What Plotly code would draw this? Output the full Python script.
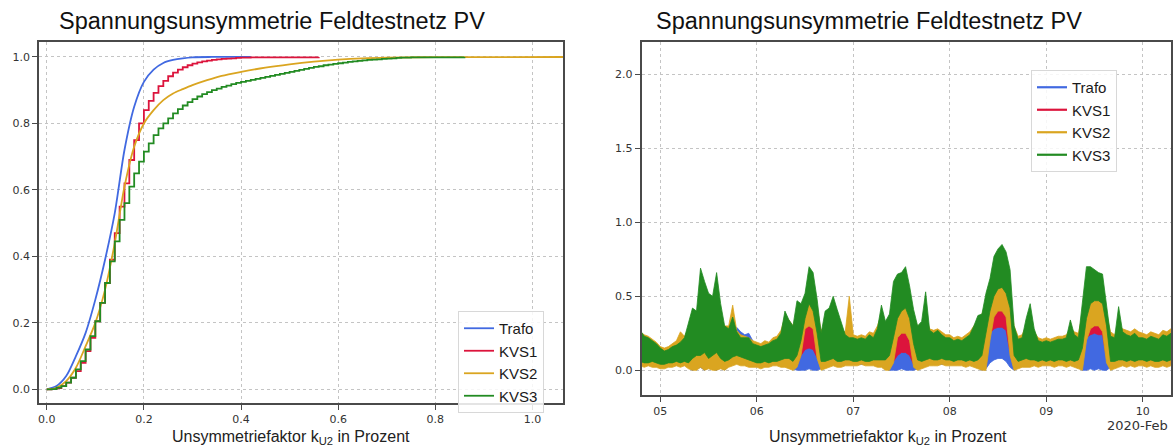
import numpy as np
import pandas as pd
import plotly.graph_objects as go

W, H = 1173, 447

# ---------------- Left: cumulative distributions ----------------
trafo_x = [0.0, 0.02, 0.04, 0.06, 0.08, 0.10, 0.12, 0.14, 0.16, 0.18, 0.20, 0.22, 0.24, 0.26, 0.28, 0.30, 0.34, 0.42]
trafo_y = [0.0, 0.01, 0.04, 0.10, 0.17, 0.27, 0.39, 0.53, 0.72, 0.85, 0.925, 0.962, 0.982, 0.991, 0.996, 0.999, 1.0, 1.0]

kvs1_x = [0.00, 0.01, 0.02, 0.03, 0.04, 0.05, 0.06, 0.07, 0.08, 0.09, 0.10, 0.11, 0.12, 0.13, 0.14,
          0.15, 0.16, 0.17, 0.18, 0.19, 0.20, 0.21, 0.22, 0.23, 0.24, 0.25, 0.26, 0.27, 0.28, 0.29,
          0.30, 0.31, 0.32, 0.33, 0.34, 0.35, 0.36, 0.37, 0.38, 0.39, 0.40, 0.41, 0.42, 0.56]
kvs1_y = [0.000, 0.001, 0.004, 0.010, 0.020, 0.035, 0.055, 0.080, 0.115, 0.155, 0.205, 0.260, 0.320, 0.390, 0.470,
          0.550, 0.620, 0.690, 0.750, 0.800, 0.840, 0.868, 0.892, 0.912, 0.928, 0.942, 0.953, 0.962, 0.969, 0.975,
          0.980, 0.984, 0.987, 0.989, 0.991, 0.993, 0.994, 0.995, 0.996, 0.997, 0.998, 0.998, 0.999, 1.000]

kvs2_x = [0.0, 0.02, 0.04, 0.06, 0.08, 0.10, 0.12, 0.14, 0.16, 0.18, 0.20, 0.22, 0.24, 0.26, 0.28, 0.30,
          0.33, 0.36, 0.40, 0.45, 0.50, 0.55, 0.60, 0.65, 0.70, 0.80, 1.10]
kvs2_y = [0.0, 0.005, 0.025, 0.065, 0.13, 0.20, 0.30, 0.44, 0.61, 0.73, 0.80, 0.84, 0.87, 0.89, 0.903, 0.915,
          0.93, 0.943, 0.955, 0.968, 0.978, 0.986, 0.992, 0.996, 0.998, 0.9995, 1.0]

kvs3_x = [0.00, 0.01, 0.02, 0.03, 0.04, 0.05, 0.06, 0.07, 0.08, 0.09, 0.10, 0.11, 0.12, 0.13, 0.14,
          0.15, 0.16, 0.17, 0.18, 0.19, 0.20, 0.21, 0.22, 0.23, 0.24, 0.25, 0.26, 0.27, 0.28, 0.29,
          0.30, 0.31, 0.32, 0.33, 0.34, 0.35, 0.36, 0.37, 0.38, 0.39, 0.40, 0.41, 0.42, 0.43, 0.44,
          0.45, 0.46, 0.47, 0.48, 0.49, 0.50, 0.51, 0.52, 0.53, 0.54, 0.55, 0.56, 0.57, 0.58, 0.59,
          0.60, 0.61, 0.62, 0.63, 0.64, 0.65, 0.66, 0.67, 0.68, 0.69, 0.70, 0.71, 0.72, 0.73, 0.74,
          0.75, 0.86]
kvs3_y = [0.000, 0.001, 0.005, 0.010, 0.020, 0.035, 0.060, 0.085, 0.120, 0.160, 0.205, 0.260, 0.320, 0.385, 0.445,
          0.510, 0.560, 0.610, 0.650, 0.685, 0.715, 0.740, 0.765, 0.785, 0.800, 0.815, 0.830, 0.843, 0.854, 0.864,
          0.873, 0.881, 0.888, 0.894, 0.900, 0.905, 0.910, 0.914, 0.918, 0.922, 0.925, 0.928, 0.931, 0.934, 0.937,
          0.940, 0.943, 0.946, 0.949, 0.952, 0.955, 0.958, 0.961, 0.964, 0.967, 0.970, 0.972, 0.975, 0.977, 0.979,
          0.981, 0.983, 0.985, 0.987, 0.988, 0.990, 0.991, 0.992, 0.993, 0.994, 0.995, 0.996, 0.997, 0.998, 0.998,
          0.999, 1.000]

# ---------------- Right: time series envelopes (hourly max / min) ----------------
t_start = "2020-02-04 19:00"
n_hours = 133

green_hi = [0.27, 0.23, 0.22, 0.20, 0.18,
            0.15, 0.13, 0.14, 0.16, 0.17, 0.19, 0.22, 0.33, 0.42, 0.40, 0.69, 0.60, 0.52, 0.50, 0.66, 0.45, 0.30, 0.28, 0.36, 0.26, 0.22, 0.22, 0.22, 0.18,
            0.17, 0.16, 0.17, 0.18, 0.20, 0.21, 0.25, 0.40, 0.34, 0.30, 0.47, 0.45, 0.52, 0.70, 0.66, 0.48, 0.25, 0.40, 0.42, 0.50, 0.41, 0.33, 0.24, 0.22,
            0.22, 0.21, 0.22, 0.21, 0.24, 0.22, 0.28, 0.44, 0.33, 0.38, 0.60, 0.65, 0.66, 0.70, 0.57, 0.41, 0.30, 0.33, 0.53, 0.27, 0.25, 0.27, 0.24, 0.22,
            0.22, 0.20, 0.21, 0.20, 0.22, 0.24, 0.30, 0.37, 0.38, 0.52, 0.62, 0.77, 0.82, 0.85, 0.80, 0.68, 0.30, 0.21, 0.22, 0.35, 0.45, 0.28, 0.20, 0.19,
            0.20, 0.19, 0.20, 0.21, 0.21, 0.22, 0.34, 0.24, 0.22, 0.45, 0.70, 0.70, 0.68, 0.66, 0.65, 0.45, 0.23, 0.22, 0.43, 0.26, 0.24, 0.23, 0.25, 0.22,
            0.22, 0.21, 0.23, 0.22, 0.21, 0.24, 0.23, 0.25]
green_lo = [0.06, 0.05, 0.05, 0.06, 0.05,
            0.04, 0.04, 0.05, 0.05, 0.06, 0.05, 0.06, 0.05, 0.08, 0.10, 0.10, 0.12, 0.08, 0.10, 0.12, 0.08, 0.06, 0.07, 0.09, 0.10, 0.09, 0.08, 0.07, 0.06,
            0.05, 0.05, 0.06, 0.05, 0.06, 0.06, 0.07, 0.08, 0.08, 0.06, 0.10, 0.20, 0.35, 0.45, 0.40, 0.25, 0.06, 0.06, 0.07, 0.08, 0.06, 0.06, 0.07, 0.07,
            0.06, 0.06, 0.07, 0.06, 0.06, 0.07, 0.07, 0.07, 0.07, 0.10, 0.22, 0.35, 0.40, 0.42, 0.35, 0.18, 0.07, 0.06, 0.07, 0.08, 0.07, 0.07, 0.08, 0.07,
            0.07, 0.06, 0.07, 0.07, 0.06, 0.07, 0.06, 0.07, 0.10, 0.25, 0.40, 0.50, 0.55, 0.56, 0.52, 0.42, 0.10, 0.06, 0.07, 0.08, 0.07, 0.07, 0.06, 0.07,
            0.06, 0.07, 0.06, 0.07, 0.07, 0.06, 0.07, 0.06, 0.07, 0.15, 0.35, 0.45, 0.47, 0.47, 0.45, 0.30, 0.06, 0.06, 0.07, 0.07, 0.06, 0.07, 0.06, 0.07,
            0.07, 0.06, 0.07, 0.06, 0.06, 0.07, 0.06, 0.07]

orange_hi = [0.26, 0.24, 0.23, 0.21, 0.19,
             0.16, 0.15, 0.16, 0.18, 0.20, 0.26, 0.23, 0.28, 0.38, 0.35, 0.45, 0.40, 0.38, 0.35, 0.45, 0.33, 0.30, 0.30, 0.44, 0.27, 0.24, 0.23, 0.22, 0.20,
             0.19, 0.18, 0.20, 0.19, 0.22, 0.23, 0.27, 0.36, 0.34, 0.30, 0.38, 0.42, 0.46, 0.48, 0.47, 0.42, 0.27, 0.30, 0.33, 0.36, 0.30, 0.27, 0.26, 0.50,
             0.24, 0.23, 0.24, 0.23, 0.26, 0.25, 0.30, 0.38, 0.32, 0.33, 0.40, 0.42, 0.43, 0.43, 0.42, 0.35, 0.30, 0.30, 0.36, 0.28, 0.27, 0.28, 0.26, 0.24,
             0.24, 0.22, 0.23, 0.22, 0.24, 0.26, 0.30, 0.34, 0.38, 0.45, 0.52, 0.56, 0.58, 0.58, 0.57, 0.50, 0.30, 0.23, 0.24, 0.30, 0.36, 0.26, 0.22, 0.21,
             0.22, 0.21, 0.22, 0.23, 0.23, 0.24, 0.28, 0.26, 0.25, 0.38, 0.46, 0.48, 0.47, 0.48, 0.47, 0.38, 0.26, 0.24, 0.30, 0.28, 0.27, 0.26, 0.28, 0.26,
             0.25, 0.24, 0.26, 0.25, 0.24, 0.27, 0.26, 0.28]
orange_lo = [0.03, 0.02, 0.03, 0.02, 0.02,
             0.01, 0.01, 0.02, 0.02, 0.03, 0.02, 0.03, 0.01, 0.00, 0.00, 0.02, 0.00, 0.01, 0.00, 0.00, 0.01, 0.00, 0.02, 0.03, 0.04, 0.03, 0.03, 0.02, 0.02,
             0.02, 0.01, 0.02, 0.02, 0.03, 0.03, 0.02, 0.02, 0.01, 0.00, 0.02, 0.10, 0.28, 0.30, 0.28, 0.08, 0.00, 0.01, 0.02, 0.03, 0.02, 0.02, 0.03, 0.03,
             0.03, 0.03, 0.04, 0.03, 0.03, 0.03, 0.02, 0.02, 0.00, 0.00, 0.05, 0.22, 0.25, 0.25, 0.20, 0.02, 0.00, 0.01, 0.02, 0.03, 0.03, 0.03, 0.04, 0.03,
             0.03, 0.03, 0.03, 0.03, 0.02, 0.03, 0.02, 0.01, 0.00, 0.00, 0.20, 0.36, 0.40, 0.40, 0.36, 0.10, 0.00, 0.01, 0.02, 0.02, 0.02, 0.03, 0.02, 0.03,
             0.03, 0.03, 0.02, 0.03, 0.03, 0.02, 0.03, 0.02, 0.01, 0.00, 0.20, 0.28, 0.30, 0.30, 0.26, 0.05, 0.00, 0.01, 0.02, 0.03, 0.02, 0.03, 0.02, 0.03,
             0.03, 0.02, 0.03, 0.02, 0.02, 0.03, 0.02, 0.03]

red_hi = [0.22, 0.20, 0.19, 0.18, 0.16,
          0.14, 0.12, 0.13, 0.15, 0.16, 0.17, 0.19, 0.22, 0.26, 0.25, 0.30, 0.28, 0.27, 0.26, 0.30, 0.25, 0.24, 0.25, 0.28, 0.25, 0.22, 0.20, 0.20, 0.17,
          0.16, 0.15, 0.16, 0.16, 0.18, 0.19, 0.21, 0.24, 0.22, 0.20, 0.22, 0.26, 0.30, 0.30, 0.29, 0.22, 0.20, 0.22, 0.24, 0.25, 0.23, 0.21, 0.20, 0.19,
          0.19, 0.18, 0.19, 0.19, 0.20, 0.19, 0.21, 0.22, 0.20, 0.20, 0.22, 0.26, 0.27, 0.26, 0.25, 0.22, 0.20, 0.21, 0.24, 0.21, 0.21, 0.22, 0.20, 0.19,
          0.19, 0.18, 0.18, 0.18, 0.19, 0.20, 0.21, 0.22, 0.24, 0.30, 0.36, 0.40, 0.40, 0.40, 0.39, 0.32, 0.20, 0.18, 0.19, 0.21, 0.22, 0.20, 0.18, 0.17,
          0.18, 0.17, 0.18, 0.18, 0.19, 0.19, 0.21, 0.20, 0.19, 0.24, 0.30, 0.32, 0.33, 0.32, 0.33, 0.28, 0.19, 0.19, 0.21, 0.20, 0.20, 0.20, 0.21, 0.20,
          0.20, 0.19, 0.20, 0.20, 0.19, 0.21, 0.20, 0.21]
red_lo = [0.05, 0.04, 0.04, 0.05, 0.04,
          0.03, 0.03, 0.04, 0.04, 0.05, 0.04, 0.05, 0.03, 0.02, 0.02, 0.03, 0.02, 0.03, 0.02, 0.02, 0.03, 0.02, 0.04, 0.05, 0.06, 0.05, 0.05, 0.04, 0.04,
          0.04, 0.04, 0.05, 0.04, 0.05, 0.05, 0.04, 0.04, 0.03, 0.02, 0.04, 0.10, 0.14, 0.15, 0.14, 0.08, 0.03, 0.03, 0.04, 0.05, 0.04, 0.04, 0.05, 0.05,
          0.05, 0.05, 0.05, 0.05, 0.05, 0.05, 0.04, 0.04, 0.02, 0.02, 0.06, 0.10, 0.12, 0.12, 0.10, 0.04, 0.02, 0.03, 0.04, 0.05, 0.05, 0.05, 0.05, 0.05,
          0.05, 0.05, 0.05, 0.05, 0.04, 0.05, 0.04, 0.03, 0.03, 0.10, 0.25, 0.28, 0.29, 0.29, 0.27, 0.12, 0.03, 0.03, 0.04, 0.04, 0.04, 0.05, 0.04, 0.05,
          0.05, 0.05, 0.04, 0.05, 0.05, 0.04, 0.05, 0.04, 0.03, 0.08, 0.22, 0.24, 0.25, 0.24, 0.24, 0.08, 0.03, 0.03, 0.04, 0.05, 0.04, 0.05, 0.04, 0.05,
          0.05, 0.04, 0.05, 0.04, 0.04, 0.05, 0.04, 0.05]

blue_hi = [0.21, 0.19, 0.18, 0.17, 0.15,
           0.13, 0.12, 0.12, 0.14, 0.15, 0.16, 0.18, 0.20, 0.22, 0.22, 0.25, 0.24, 0.23, 0.22, 0.25, 0.22, 0.22, 0.24, 0.26, 0.29, 0.26, 0.24, 0.25, 0.20,
           0.16, 0.15, 0.15, 0.16, 0.17, 0.18, 0.20, 0.22, 0.20, 0.18, 0.15, 0.15, 0.16, 0.17, 0.16, 0.14, 0.18, 0.21, 0.23, 0.24, 0.22, 0.20, 0.19, 0.18,
           0.18, 0.17, 0.18, 0.18, 0.19, 0.18, 0.20, 0.21, 0.18, 0.12, 0.12, 0.13, 0.14, 0.13, 0.12, 0.10, 0.19, 0.20, 0.22, 0.20, 0.20, 0.21, 0.19, 0.18,
           0.18, 0.17, 0.17, 0.17, 0.18, 0.19, 0.20, 0.20, 0.18, 0.22, 0.28, 0.30, 0.30, 0.30, 0.29, 0.20, 0.17, 0.17, 0.18, 0.20, 0.21, 0.19, 0.17, 0.16,
           0.17, 0.16, 0.17, 0.17, 0.18, 0.18, 0.20, 0.19, 0.18, 0.14, 0.24, 0.26, 0.25, 0.26, 0.26, 0.20, 0.18, 0.18, 0.20, 0.19, 0.19, 0.19, 0.20, 0.19,
           0.19, 0.18, 0.19, 0.19, 0.18, 0.20, 0.19, 0.20]
blue_lo = [0.05, 0.04, 0.04, 0.05, 0.04,
           0.03, 0.03, 0.04, 0.04, 0.04, 0.04, 0.04, 0.02, 0.00, 0.01, 0.02, 0.00, 0.02, 0.01, 0.00, 0.02, 0.00, 0.03, 0.04, 0.05, 0.05, 0.04, 0.04, 0.03,
           0.03, 0.03, 0.04, 0.04, 0.04, 0.04, 0.03, 0.03, 0.02, 0.01, 0.00, 0.00, 0.00, 0.01, 0.00, 0.00, 0.01, 0.02, 0.03, 0.04, 0.04, 0.04, 0.04, 0.04,
           0.04, 0.04, 0.04, 0.04, 0.04, 0.04, 0.03, 0.03, 0.01, 0.00, 0.00, 0.00, 0.01, 0.00, 0.00, 0.00, 0.01, 0.02, 0.03, 0.04, 0.04, 0.04, 0.04, 0.04,
           0.04, 0.04, 0.04, 0.04, 0.03, 0.04, 0.03, 0.02, 0.00, 0.01, 0.05, 0.07, 0.08, 0.08, 0.06, 0.02, 0.00, 0.02, 0.03, 0.03, 0.03, 0.04, 0.03, 0.04,
           0.04, 0.04, 0.03, 0.04, 0.04, 0.03, 0.04, 0.03, 0.02, 0.00, 0.00, 0.01, 0.00, 0.01, 0.00, 0.00, 0.02, 0.02, 0.03, 0.04, 0.03, 0.04, 0.03, 0.04,
           0.04, 0.03, 0.04, 0.03, 0.03, 0.04, 0.03, 0.04]

names = ["Trafo", "KVS1", "KVS2", "KVS3"]
colors = ["#4169E1", "#DC143C", "#DAA520", "#228B22"]

# ---------------- figure ----------------
def px_x(p):
    return p / W

def px_y(p):
    return 1 - p / H

fig = go.Figure()

cdf_sets = [(trafo_x, trafo_y, "spline"), (kvs1_x, kvs1_y, "hv"),
            (kvs2_x, kvs2_y, "spline"), (kvs3_x, kvs3_y, "hv")]
for (xs, ys, shape), nm, col in zip(cdf_sets, names, colors):
    line = dict(color=col, width=1.8, shape=shape)
    if shape == "spline":
        line["smoothing"] = 0.8
    fig.add_trace(go.Scatter(x=xs, y=ys, mode="lines", name=nm, line=line,
                             xaxis="x", yaxis="y", legend="legend", hoverinfo="skip"))

times = pd.date_range(t_start, periods=n_hours, freq="h")
tx = list(times) + list(times[::-1])
bands = [(blue_hi, blue_lo), (red_hi, red_lo), (orange_hi, orange_lo), (green_hi, green_lo)]
for (hi, lo), nm, col in zip(bands, names, colors):
    fig.add_trace(go.Scatter(x=tx, y=list(hi) + list(lo[::-1]), mode="lines", fill="toself",
                             fillcolor=col, line=dict(color=col, width=0.8),
                             showlegend=False, xaxis="x2", yaxis="y2", hoverinfo="skip"))
for nm, col in zip(names, colors):
    fig.add_trace(go.Scatter(x=[None], y=[None], mode="lines", name=nm,
                             line=dict(color=col, width=2.2),
                             xaxis="x2", yaxis="y2", legend="legend2"))

tickfont = dict(family="DejaVu Sans", size=11, color="#333333")
common = dict(showgrid=True, gridcolor="#c4c4c4", gridwidth=1, griddash="3px,3px",
              showline=True, mirror=True, linecolor="#4a4a4a", linewidth=1.5,
              ticks="outside", ticklen=5, tickcolor="#4a4a4a", tickfont=tickfont,
              zeroline=False)

legend_style = dict(font=dict(family="Liberation Sans", size=15, color="#1a1a1a"),
                    bgcolor="rgba(255,255,255,0.85)", bordercolor="#d8d8d8", borderwidth=1,
                    xanchor="left", yanchor="top", itemwidth=30, tracegroupgap=0,
                    itemclick=False)

fig.update_layout(
    width=W, height=H, margin=dict(l=0, r=0, t=0, b=0),
    paper_bgcolor="white", plot_bgcolor="white",
    xaxis=dict(domain=[px_x(39), px_x(563)], range=[-0.016, 1.063], anchor="y",
               tickvals=[0.0, 0.2, 0.4, 0.6, 0.8, 1.0], tickformat=".1f", **common),
    yaxis=dict(domain=[px_y(403), px_y(42)], range=[-0.041, 1.045], anchor="x",
               tickvals=[0.0, 0.2, 0.4, 0.6, 0.8, 1.0], tickformat=".1f", **common),
    xaxis2=dict(domain=[px_x(641.5), px_x(1171)], type="date",
                range=["2020-02-04 19:19", "2020-02-10 07:02"], anchor="y2",
                tick0="2020-02-05", dtick=86400000, tickformat="%d", **common),
    yaxis2=dict(domain=[px_y(395), px_y(42)], range=[-0.167, 2.218], anchor="x2",
                tickvals=[0.0, 0.5, 1.0, 1.5, 2.0], tickformat=".1f", **common),
    legend=dict(x=px_x(458), y=px_y(311), **legend_style),
    legend2=dict(x=px_x(1031), y=px_y(70), **legend_style),
    showlegend=True,
)

title_font = dict(family="Liberation Sans", size=23.5, color="#111111")
label_font = dict(family="Liberation Sans", size=16, color="#222222")
ann = [
    dict(text="Spannungsunsymmetrie Feldtestnetz PV", x=px_x(272), y=px_y(21), font=title_font),
    dict(text="Spannungsunsymmetrie Feldtestnetz PV", x=px_x(869), y=px_y(21), font=title_font),
    dict(text="Unsymmetriefaktor k<sub>U2</sub> in Prozent", x=px_x(291), y=px_y(437), font=label_font),
    dict(text="Unsymmetriefaktor k<sub>U2</sub> in Prozent", x=px_x(888), y=px_y(437), font=label_font),
    dict(text="2020-Feb", x=px_x(1170), y=px_y(425), xanchor="right",
         font=dict(family="DejaVu Sans", size=13, color="#333333")),
]
for a in ann:
    a.setdefault("xanchor", "center")
    fig.add_annotation(xref="paper", yref="paper", yanchor="middle", showarrow=False, **a)

fig.write_html("out.html")
